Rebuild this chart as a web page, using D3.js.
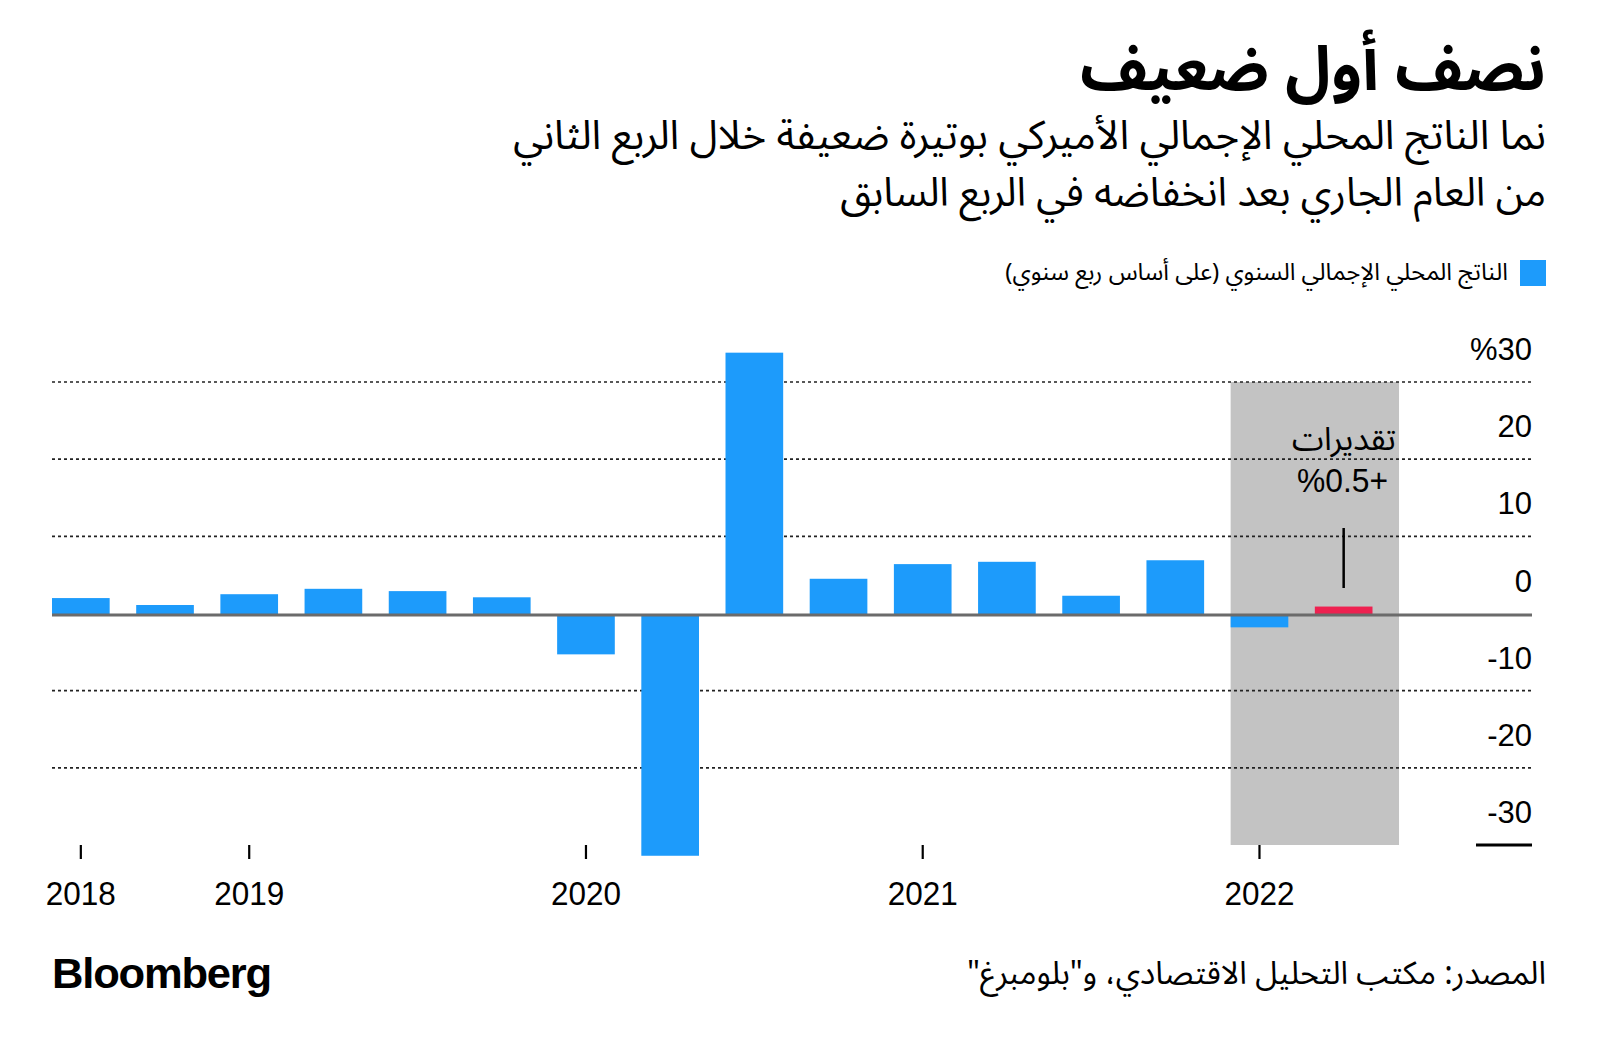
<!DOCTYPE html>
<html>
<head>
<meta charset="utf-8">
<script src="https://cdn.jsdelivr.net/npm/d3@7"></script>
<style>
  html, body { margin: 0; padding: 0; background: #fff; }
  svg { display: block; }
  .ar { font-family: "Noto Sans Arabic", "Noto Naskh Arabic", "DejaVu Sans", sans-serif; }
  .lat { font-family: "Liberation Sans", Arial, Helvetica, sans-serif; }
</style>
</head>
<body>
<svg id="chart" width="1600" height="1055"></svg>
<script>
// ---------------- data ----------------
const quarters = ["2018 Q3","2018 Q4","2019 Q1","2019 Q2","2019 Q3","2019 Q4",
                  "2020 Q1","2020 Q2","2020 Q3","2020 Q4","2021 Q1","2021 Q2",
                  "2021 Q3","2021 Q4","2022 Q1","2022 Q2"];
const gdpGrowth = [2.0, 1.1, 2.5, 3.2, 2.9, 2.1, -5.1, -31.2, 33.8, 4.5, 6.4, 6.7, 2.3, 6.9, -1.6, 0.9];
const estimateQuarters = ["2022 Q2"];
const shadedQuarters = ["2022 Q1", "2022 Q2"];
const yTicks = [30, 20, 10, 0, -10, -20, -30];
const yTickLabels = ["%30", "20", "10", "0", "-10", "-20", "-30"];
const yearTickQuarters = ["2018 Q3", "2019 Q1", "2020 Q1", "2021 Q1", "2022 Q1"];
const yearTickLabels = ["2018", "2019", "2020", "2021", "2022"];

const titleText = "نصف أول ضعيف";
const subtitleLines = ["نما الناتج المحلي الإجمالي الأميركي بوتيرة ضعيفة خلال الربع الثاني",
                       "من العام الجاري بعد انخفاضه في الربع السابق"];
const legendText = "الناتج المحلي الإجمالي السنوي (على أساس ربع سنوي)";
const annotationWord = "تقديرات";
const annotationValue = "%0.5+";
const sourceText = "المصدر: مكتب التحليل الاقتصادي، و\"بلومبرغ\"";

// ---------------- styles ----------------
const BLUE = "#1d9bfb";
const RED = "#ee2150";
const SHADE = "#c3c3c3";

const svg = d3.select("#chart");

const x = d3.scaleBand().domain(quarters).range([52, 1372.5]).paddingInner(0.315).paddingOuter(0);
const y = d3.scaleLinear().domain([-30, 30]).range([845, 382]);
const plotRight = 1532;

function fitWidth(sel, w) {
  const node = sel.node();
  const fs = parseFloat(sel.attr("font-size"));
  const cur = node.getComputedTextLength();
  if (cur > 0) sel.attr("font-size", (fs * w / cur).toFixed(2));
}

// shaded estimate region
const shadeStart = x(shadedQuarters[0]);
const shadeEnd = x(shadedQuarters[shadedQuarters.length - 1]) + x.step();
svg.append("rect")
  .attr("x", shadeStart).attr("y", y(30))
  .attr("width", shadeEnd - shadeStart).attr("height", y(-30) - y(30))
  .attr("fill", SHADE);

// gridlines (dotted) except zero and bottom
svg.append("g").selectAll("line")
  .data(yTicks.filter(t => t !== 0 && t !== -30))
  .join("line")
  .attr("x1", 52).attr("x2", plotRight)
  .attr("y1", d => y(d)).attr("y2", d => y(d))
  .attr("stroke", "#222").attr("stroke-width", 1.6)
  .attr("stroke-dasharray", "3,3");

// bottom solid short line at -30
svg.append("line")
  .attr("x1", 1476).attr("x2", plotRight)
  .attr("y1", y(-30)).attr("y2", y(-30))
  .attr("stroke", "#000").attr("stroke-width", 3);

// bars
svg.append("g").selectAll("rect")
  .data(quarters.map((q, i) => ({ q, v: gdpGrowth[i] })))
  .join("rect")
  .attr("x", d => x(d.q))
  .attr("width", x.bandwidth())
  .attr("y", d => d.v >= 0 ? y(d.v) : y(0) + 1.5)
  .attr("height", d => d.v >= 0 ? (y(0) + 1.5 - y(d.v)) : (y(d.v) - y(0)))
  .attr("fill", d => estimateQuarters.includes(d.q) ? RED : BLUE);

// zero line
svg.append("line")
  .attr("x1", 52).attr("x2", plotRight)
  .attr("y1", y(0) + 1.5).attr("y2", y(0) + 1.5)
  .attr("stroke", "#6b6b6b").attr("stroke-width", 3);

// y labels
svg.append("g").selectAll("text")
  .data(yTicks)
  .join("text")
  .attr("class", "lat")
  .attr("x", plotRight).attr("y", d => y(d) - 22)
  .attr("text-anchor", "end")
  .attr("direction", "ltr")
  .attr("font-size", 31)
  .attr("fill", "#000")
  .text((d, i) => yTickLabels[i]);

// x ticks + labels
const xt = svg.append("g");
yearTickQuarters.forEach((q, i) => {
  const cx = x(q) + x.bandwidth() / 2;
  xt.append("line").attr("x1", cx).attr("x2", cx).attr("y1", 845).attr("y2", 859)
    .attr("stroke", "#000").attr("stroke-width", 2.2);
  xt.append("text").attr("class", "lat")
    .attr("x", cx).attr("y", 905)
    .attr("text-anchor", "middle")
    .attr("font-size", 34)
    .attr("textLength", 70).attr("lengthAdjust", "spacingAndGlyphs")
    .attr("fill", "#000")
    .text(yearTickLabels[i]);
});

// annotation
const estQ = estimateQuarters[0];
const estX = x(estQ) + x.bandwidth() / 2;
svg.append("line")
  .attr("x1", estX).attr("x2", estX).attr("y1", 528).attr("y2", 588)
  .attr("stroke", "#000").attr("stroke-width", 2.5);
const aw = svg.append("text").attr("class", "ar")
  .attr("x", 1396).attr("y", 450)
  .attr("text-anchor", "start").attr("direction", "rtl")
  .attr("font-size", 30).attr("fill", "#000")
  .text(annotationWord);
fitWidth(aw, 104);
svg.append("text").attr("class", "lat")
  .attr("x", 1388).attr("y", 492)
  .attr("text-anchor", "end").attr("direction", "ltr")
  .attr("font-size", 33)
  .attr("textLength", 91).attr("lengthAdjust", "spacingAndGlyphs")
  .attr("fill", "#000")
  .text(annotationValue);

// title & subtitle
const t = svg.append("text").attr("class", "ar")
  .attr("x", 1546).attr("y", 90)
  .attr("text-anchor", "start").attr("direction", "rtl")
  .attr("font-size", 52).attr("font-weight", "bold").attr("fill", "#000")
  .text(titleText);
fitWidth(t, 466);

const subWidths = [1033, 706];
const subY = [149, 206];
subtitleLines.forEach((s, i) => {
  const st = svg.append("text").attr("class", "ar")
    .attr("x", 1546).attr("y", subY[i])
    .attr("text-anchor", "start").attr("direction", "rtl")
    .attr("font-size", 34).attr("fill", "#000")
    .text(s);
  fitWidth(st, subWidths[i]);
});

// legend
svg.append("rect").attr("x", 1520).attr("y", 260).attr("width", 26).attr("height", 26).attr("fill", BLUE);
const lt = svg.append("text").attr("class", "ar")
  .attr("x", 1508).attr("y", 280)
  .attr("text-anchor", "start").attr("direction", "rtl")
  .attr("font-size", 22).attr("fill", "#000")
  .text(legendText);
fitWidth(lt, 503);

// source
const src = svg.append("text").attr("class", "ar")
  .attr("x", 1546).attr("y", 984)
  .attr("text-anchor", "start").attr("direction", "rtl")
  .attr("font-size", 28).attr("fill", "#000")
  .text(sourceText);
fitWidth(src, 579);

// Bloomberg logo
svg.append("text").attr("class", "lat")
  .attr("x", 52).attr("y", 988)
  .attr("font-size", 43).attr("font-weight", "bold")
  .attr("letter-spacing", -1.2)
  .attr("textLength", 219).attr("lengthAdjust", "spacingAndGlyphs")
  .attr("fill", "#000")
  .text("Bloomberg");
</script>
</body>
</html>
